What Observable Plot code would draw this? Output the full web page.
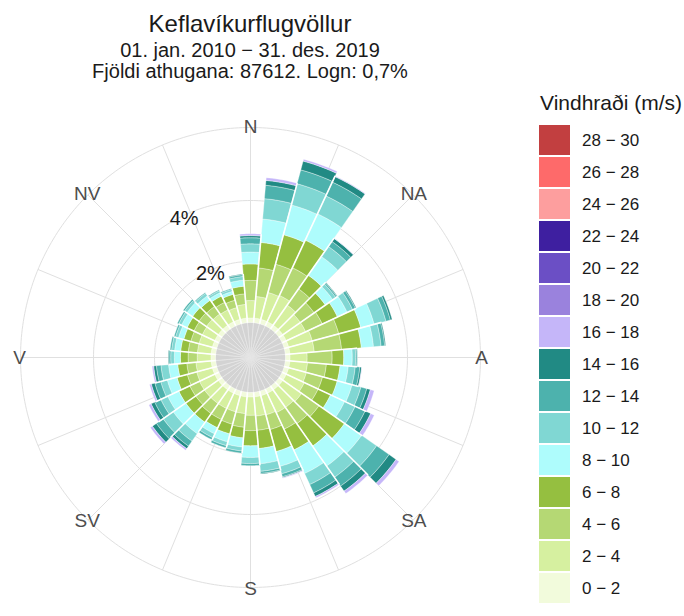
<!DOCTYPE html>
<html>
<head>
<meta charset="utf-8">
<script src="https://cdn.jsdelivr.net/npm/d3@7"></script>
<script src="https://cdn.jsdelivr.net/npm/@observablehq/plot@0.6"></script>
<style>
  body { margin: 0; background: #fff; font-family: "Liberation Sans", Arial, sans-serif; }
  #wrap { position: relative; width: 684px; height: 616px; overflow: hidden; }
  .t { position: absolute; left: 0; width: 500px; text-align: center; color: #1a1a1a; white-space: nowrap; line-height: 1; }
  #chart, #legend { position: absolute; }
  #chart { left: 0; top: 0; }
  #legend { left: 539px; top: 120px; }
  #ltitle { position: absolute; left: 540px; top: 92px; font-size: 21px; color: #1a1a1a; line-height: 1; white-space: nowrap; }
</style>
</head>
<body>
<div id="wrap">
  <div class="t" style="top:12px;font-size:24px;">Keflavíkurflugvöllur</div>
  <div class="t" style="top:40px;font-size:20px;">01. jan. 2010 − 31. des. 2019</div>
  <div class="t" style="top:60.5px;font-size:20px;">Fjöldi athugana: 87612. Logn: 0,7%</div>
  <div id="ltitle">Vindhraði (m/s)</div>
  <div id="chart"></div>
  <div id="legend"></div>
</div>
<script>
// ---------- data ----------
const directions = [0,10,20,30,40,50,60,70,80,90,100,110,120,130,140,150,160,170,
                    180,190,200,210,220,230,240,250,260,270,280,290,300,310,320,330,340,350];

const speedBins = ["0 − 2","2 − 4","4 − 6","6 − 8","8 − 10","10 − 12","12 − 14","14 − 16",
                   "16 − 18","18 − 20","20 − 22","22 − 24","24 − 26","26 − 28","28 − 30"];
const binColors = ["#f2fbdc","#d6f0a0","#b5d874","#95bf40","#aefcfc","#80d7d3","#4db2ad","#218a84",
                   "#c5b6f9","#9a82dd","#6b4fc5","#3e1fa0","#fd9e9e","#fe6a6a","#c23f40"];

// percent of observations per direction (bearing, clockwise from N) and speed bin
const s0_2   = [.15,.15,.15,.15,.15,.15,.15,.15,.15,.15,.15,.15,.15,.15,.15,.15,.15,.15,
                .15,.15,.15,.15,.15,.15,.15,.15,.15,.15,.15,.15,.15,.15,.15,.15,.15,.15];
const s2_4   = [.57,.71,.91,.95,.80,.70,.70,.80,.80,.56,.58,.60,.65,.75,.70,.70,.65,.63,
                .60,.55,.55,.55,.55,.55,.55,.53,.50,.45,.45,.45,.45,.47,.45,.43,.40,.45];
const s4_6   = [.66,.94,.96,1.00,.65,.55,.60,.90,.90,.82,.62,.55,.50,.70,.65,.60,.50,.47,
                .50,.45,.42,.40,.40,.35,.35,.32,.30,.30,.30,.28,.30,.30,.30,.27,.25,.35];
const s6_8   = [.54,.84,1.00,1.00,.55,.45,.55,.75,.65,.38,.45,.50,.45,1.02,.90,.75,.75,.60,
                .50,.35,.33,.30,.35,.40,.40,.35,.30,.25,.25,.24,.25,.26,.25,.23,.20,.25];
const s8_10  = [.39,.77,1.01,.95,.75,.30,.35,.45,.40,.28,.27,.50,.51,.68,.80,.85,.50,.50,
                .38,.30,.27,.22,.45,.50,.40,.33,.30,.20,.20,.18,.20,.22,.17,.12,.10,.20];
const s10_12 = [.27,.67,.72,.65,.40,.12,.20,.40,.25,.11,.23,.30,.38,.60,.45,.40,.25,.25,
                .20,.13,.13,.14,.30,.40,.25,.22,.25,.12,.10,.10,.10,.10,.10,.07,.07,.12];
const s12_14 = [.20,.44,.47,.50,.20,.05,.10,.15,.12,.05,.15,.20,.36,.50,.35,.30,.10,.07,
                .07,.07,.07,.07,.20,.27,.22,.20,.15,.06,.05,.05,.05,.05,.03,.03,.03,.06];
const s14_16 = [.07,.16,.30,.20,.12,.02,.03,.06,.03,.01,.06,.12,.20,.28,.20,.13,.03,.02,
                0,0,0,0,.10,.16,.13,.12,.09,.02,0,0,0,0,0,0,0,.02];
const s16_18 = [.06,.09,.06,.02,.01,0,0,0,0,0,.01,.13,.13,.12,.10,.05,.02,0,
                0,0,0,0,.06,.08,.08,.06,.05,0,0,0,0,0,0,0,0,0];

const gridPct = [2, 4];
const gridLabels = ["2%", "4%"];
const compassAngles = [0, 45, 90, 135, 180, 225, 270, 315];
const compassLabels = ["N", "NA", "A", "SA", "S", "SV", "V", "NV"];

// ---------- geometry helpers (data space: percent units) ----------
const W = 684, H = 616, CX = 250, CY = 357;
const K = 30.5;              // px per percent
const HOLE = 35 / K;         // inner hole in percent units
const OUTER = 230 / K;       // outer circle
const LABEL_R = 231 / K;
const HALF = 5;
const rad = a => a * Math.PI / 180;
function arc(u, a0, a1, step = 1) {
  const n = Math.max(1, Math.round(Math.abs(a1 - a0) / step));
  const pts = [];
  for (let k = 0; k <= n; k++) {
    const a = rad(a0 + (a1 - a0) * k / n);
    pts.push([u * Math.sin(a), u * Math.cos(a)]);
  }
  return pts;
}

const seriesByBin = [s0_2, s2_4, s4_6, s6_8, s8_10, s10_12, s12_14, s14_16, s16_18];

const wedgeRows = [];
directions.forEach((dir, i) => {
  let acc = 0;
  seriesByBin.forEach((arr, j) => {
    const v = arr[i];
    if (!(v > 0)) return;
    const id = `w${i}_${j}`;
    const pts = [...arc(HOLE + acc, dir - HALF, dir + HALF), ...arc(HOLE + acc + v, dir + HALF, dir - HALF)];
    pts.push(pts[0]);
    for (const [x, y] of pts) wedgeRows.push({id, bin: speedBins[j], x, y});
    acc += v;
  });
});

// white separators between neighbouring bars
const totals = directions.map((d, i) => d3.sum(seriesByBin, arr => arr[i]));
const separators = directions.map((dir, i) => {
  const j = (i + 1) % directions.length;
  const u = HOLE + Math.min(totals[i], totals[j]);
  const a = rad(dir + HALF);
  return {x1: HOLE * Math.sin(a), y1: HOLE * Math.cos(a), x2: u * Math.sin(a), y2: u * Math.cos(a)};
});

const holeRows = [];
directions.forEach((dir, i) => {
  const pts = [[0, 0], ...arc(HOLE, dir - HALF, dir + HALF), [0, 0]];
  for (const [x, y] of pts) holeRows.push({id: "h" + i, x, y});
});

const gridRows = [];
[...gridPct.map(p => HOLE + p), OUTER].forEach((u, i) => {
  for (const [x, y] of arc(u, 0, 360)) gridRows.push({id: "c" + i, x, y});
});

const spokes = d3.range(0, 360, 22.5).map(a => ({x2: OUTER * Math.sin(rad(a)), y2: OUTER * Math.cos(rad(a))}));

const compass = compassAngles.map((a, i) => ({
  x: LABEL_R * Math.sin(rad(a)), y: LABEL_R * Math.cos(rad(a)), text: compassLabels[i]
}));
const pctAngle = 334.5;
const pctRows = gridPct.map((p, i) => ({
  x: (HOLE + p - 0.09) * Math.sin(rad(pctAngle)),
  y: (HOLE + p - 0.09) * Math.cos(rad(pctAngle)),
  text: gridLabels[i]
}));

// ---------- main chart ----------
const chart = Plot.plot({
  width: W, height: H, margin: 0,
  x: {domain: [-CX / K, (W - CX) / K], range: [0, W], axis: null},
  y: {domain: [-(H - CY) / K, CY / K], range: [H, 0], axis: null},
  color: {domain: speedBins, range: binColors},
  style: {background: "transparent", fontFamily: "Liberation Sans, Arial, sans-serif"},
  marks: [
    Plot.line(gridRows, {x: "x", y: "y", z: "id", stroke: "#e0e0e0", strokeWidth: 1}),
    Plot.link(spokes, {x1: 0, y1: 0, x2: "x2", y2: "y2", stroke: "#e0e0e0", strokeWidth: 1}),
    Plot.line(holeRows, {x: "x", y: "y", z: "id", fill: "#d3d3d3", stroke: "#e6e6e6", strokeWidth: 0.8}),
    Plot.line(wedgeRows, {x: "x", y: "y", z: "id", fill: "bin", stroke: "white", strokeWidth: 0.5, strokeOpacity: 0.7}),
    Plot.link(separators, {x1: "x1", y1: "y1", x2: "x2", y2: "y2", stroke: "white", strokeWidth: 1.6}),
    Plot.text(compass, {x: "x", y: "y", text: "text", fontSize: 19, fill: "#4d4d4d"}),
    Plot.text(pctRows, {x: "x", y: "y", text: "text", fontSize: 20, fill: "#1a1a1a"})
  ]
});
document.getElementById("chart").append(chart);

// ---------- legend ----------
const legendOrder = speedBins.slice().reverse();
const legend = Plot.plot({
  width: 145, height: 489, margin: 0,
  x: {type: "band", domain: ["swatch"], range: [0, 31], padding: 0, axis: null},
  y: {type: "band", domain: legendOrder, range: [0, 489], padding: 0.06, axis: null},
  color: {domain: speedBins, range: binColors},
  style: {background: "transparent", fontFamily: "Liberation Sans, Arial, sans-serif"},
  marks: [
    Plot.cell(legendOrder, {x: () => "swatch", y: d => d, fill: d => d, inset: 0}),
    Plot.text(legendOrder, {x: () => "swatch", y: d => d, text: d => d, dx: 27,
                            textAnchor: "start", fontSize: 17, fill: "#1a1a1a"})
  ]
});
document.getElementById("legend").append(legend);
</script>
</body>
</html>
